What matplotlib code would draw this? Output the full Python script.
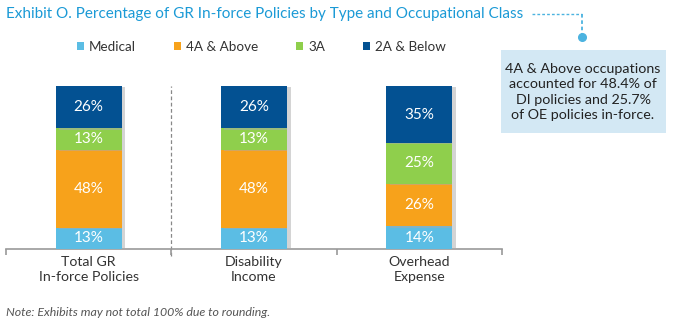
import matplotlib.pyplot as plt
import matplotlib.patheffects as pe
from matplotlib.patches import FancyBboxPatch, Patch
import numpy as np

plt.rcParams['font.family'] = ['Lato', 'DejaVu Sans']

# data
categories = ["Total GR\nIn-force Policies", "Disability\nIncome", "Overhead\nExpense"]
series = ["Medical", "4A & Above", "3A", "2A & Below"]
medical = [13, 13, 14]
above4a = [48, 48, 26]
class3a = [13, 13, 25]
below2a = [26, 26, 35]
colors = ["#5bbde4", "#f7a21b", "#8fcf4c", "#035192"]

W, H = 674, 324
fig = plt.figure(figsize=(W / 100, H / 100), dpi=100)
ax = fig.add_axes([6 / W, 75 / H, 496 / W, 163 / H])

x = np.arange(len(categories))
bottom = np.zeros(len(categories))
handles = []
for name, vals, col in zip(series, [medical, above4a, class3a, below2a], colors):
    ax.bar(x, vals, width=0.4, bottom=bottom, color=col, zorder=3,
           path_effects=[pe.SimplePatchShadow(offset=(2.5, -1), shadow_rgbFace="#aaaaaa", alpha=0.5), pe.Normal()])
    for xi, b, v in zip(x, bottom, vals):
        ax.text(xi, b + v / 2, "%d%%" % v, color="white", ha="center", va="center", fontsize=11, zorder=4)
    handles.append(Patch(facecolor=col, edgecolor="none"))
    bottom += np.array(vals)

ax.set_xlim(-0.5, 2.5)
ax.set_ylim(0, 100)
for s in ["top", "right", "left"]:
    ax.spines[s].set_visible(False)
ax.spines["bottom"].set_color("#999999")
ax.spines["bottom"].set_linewidth(1.2)
ax.set_yticks([])
ax.set_xticks([-0.5, 0.5, 1.5, 2.5])
ax.set_xticklabels([])
ax.tick_params(axis="x", direction="out", length=4, color="#999999", width=1.2)
for xi, c in zip(x, categories):
    ax.text(xi, -4.5, c, ha="center", va="top", fontsize=10.2, color="#333333", linespacing=1.3)

# divider
ax.plot([0.5, 0.5], [-4, 100], ls=(0, (3, 2)), color="#888888", lw=0.9, clip_on=False, zorder=1)

fig.legend(handles=handles, labels=series, ncol=4, loc="center left", bbox_to_anchor=(77 / W, 1 - 47 / H),
           frameon=False, fontsize=9.7, handlelength=0.55, handleheight=0.55, handletextpad=0.35,
           columnspacing=2.8, borderpad=0, borderaxespad=0, labelcolor="#333333")

# title
fig.text(6 / W, 1 - 14 / H, "Exhibit O. Percentage of GR In-force Policies by Type and Occupational Class",
         fontsize=11, color="#1b9ad6", va="center", ha="left")

# connector
fig.add_artist(plt.Line2D([532 / W, 582 / W], [1 - 14 / H, 1 - 14 / H], ls=(0, (2, 1.5)), color="#4cb3e0", lw=1))
fig.add_artist(plt.Line2D([582 / W, 582 / W], [1 - 14 / H, 1 - 34 / H], ls=(0, (2, 1.5)), color="#4cb3e0", lw=1.3))
fig.add_artist(plt.Line2D([582 / W], [1 - 37 / H], marker="o", markersize=5.5, color="#4cb3e0"))

# annotation box
box = FancyBboxPatch((501 / W, 1 - 133 / H), 165 / W, 83 / H, boxstyle="square,pad=0",
                     transform=fig.transFigure, facecolor="#d3e8f4", edgecolor="none")
fig.add_artist(box)
fig.text(583 / W, 1 - 92 / H, "4A & Above occupations\naccounted for 48.4% of\nDI policies and 25.7%\nof OE policies in-force.",
         ha="center", va="center", fontsize=10.3, color="#222222", linespacing=1.32)

# footnote
fig.text(6 / W, 1 - 312 / H, "Note: Exhibits may not total 100% due to rounding.", fontsize=8.9, style="italic",
         color="#555555", va="center", ha="left")

fig.savefig("out.png", dpi=100)
